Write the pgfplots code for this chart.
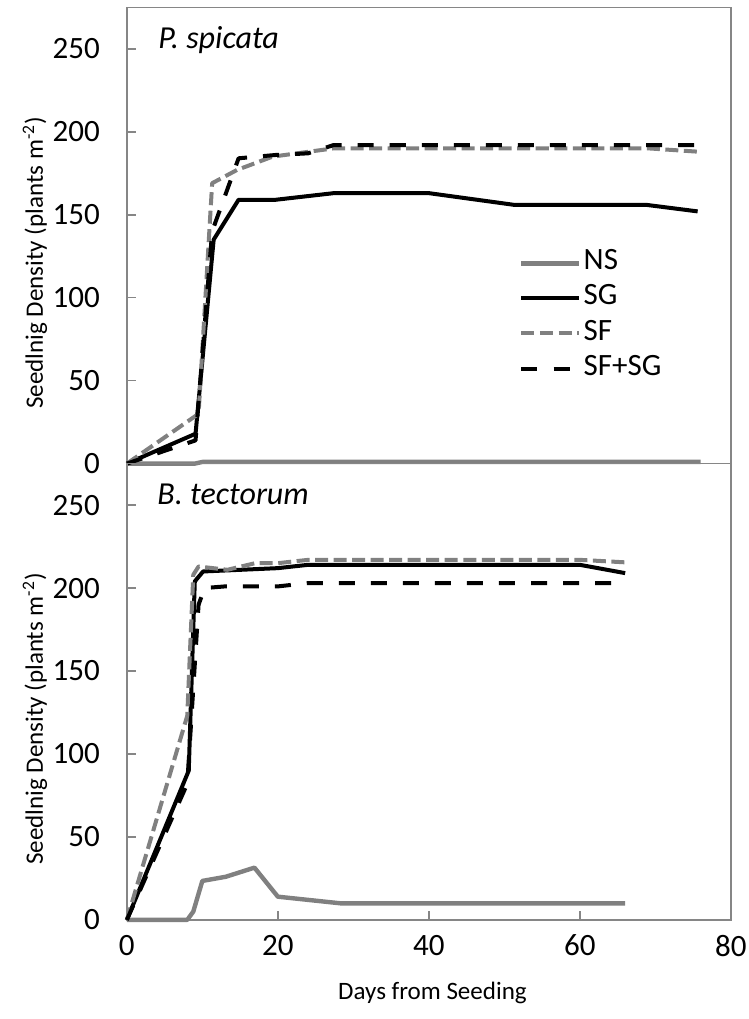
\documentclass[border=0pt]{standalone}
\usepackage{fontspec}
\setmainfont{Carlito}
\usepackage{pgfplots}
\pgfplotsset{compat=1.18}

\definecolor{nsgray}{RGB}{128,128,128}
\definecolor{axgray}{RGB}{134,134,134}

\pgfplotsset{
  panel/.style={
    width=301.7pt, height=227.9pt, scale only axis,
    xmin=0, xmax=80, ymin=0, ymax=275,
    ytick={0,50,...,250}, xtick={0,20,...,80},
    tick align=inside, ytick pos=left, xtick pos=bottom,
    major tick length=4.5pt,
    axis line style={axgray, line width=0.8pt},
    tick style={axgray, line width=0.8pt},
    tick label style={font=\fontsize{15.5}{18}\selectfont},
    /pgf/number format/assume math mode=true,
    yticklabel style={xshift=-10pt},
    label style={font=\fontsize{12.5}{15}\selectfont},
    ylabel={Seedlnig Density (plants m\textsuperscript{-2})},
    ylabel style={at={(axis description cs:-0.152,0.44)}, anchor=center},
    clip=false,
  },
  ns/.style={nsgray, line width=2.2pt, line join=round, no markers},
  sg/.style={black, line width=2pt, line join=round, no markers},
  sf/.style={nsgray, line width=2pt, line join=round, dash pattern=on 6.5pt off 2.75pt, no markers},
  sfsg/.style={black, line width=2pt, line join=round, dash pattern=on 8pt off 8pt, no markers},
}

\begin{document}
\begin{tikzpicture}
\useasboundingbox (-63.35pt,3.65pt) rectangle (310.7pt,-505.3pt);

% P. spicata
\begin{axis}[panel, name=top, at={(0,0)}, anchor=north west,
  xtick=\empty,
  legend cell align=left,
  legend image code/.code={\draw[#1] (0pt,0pt) -- (28.5pt,0pt);},
  legend style={draw=none, fill=none, at={(rel axis cs:0.649,0.478)}, anchor=north west,
    inner sep=0pt, row sep=0pt, font=\fontsize{15.5}{18}\selectfont,
    nodes={inner xsep=1.5pt, inner ysep=0pt, text height=12pt, text depth=5.5pt}},
]
\addplot[ns] coordinates {(0,0) (9,0) (10,1) (15,1) (20,1) (27,1) (40,1) (52,1) (69,1) (76,1)};
\addlegendentry{NS}
\addplot[sg] coordinates {(0,0) (9.1,18) (11.5,135) (14.8,159) (19.7,159) (27.4,163) (40,163) (51.2,156) (68.7,156) (75.6,152)};
\addlegendentry{SG}
\addplot[sf] coordinates {(0,0) (9.5,30) (11.3,169) (14.6,177) (19.3,185) (27.4,190) (40,190) (52,190) (69,190) (75.6,188)};
\addlegendentry{SF}
\addplot[sfsg] coordinates {(0,0) (9.1,14) (11.3,140) (14.8,184) (19.7,186) (24,187) (27.4,192) (40,192) (52,192) (69,192) (75.6,192)};
\addlegendentry{SF+SG}
\node[anchor=base west, inner sep=0pt, font=\fontsize{16}{19}\selectfont\itshape]
  at (rel axis cs:0.0514,0.91) {P. spicata};
\end{axis}

% B. tectorum
\begin{axis}[panel, name=bot, at={(top.south west)}, anchor=north west,
  xlabel={Days from Seeding},
  xlabel style={at={(axis description cs:0.506,-0.16)}, anchor=center},
  xticklabel style={yshift=-4pt},
]
\addplot[ns] coordinates {(0,0) (8,0) (8.8,5) (10,23.5) (13.1,26) (16.9,31.5) (20,14) (28.3,10) (40,10) (60,10) (66,10)};
\addplot[sg] coordinates {(0,0) (8.2,90) (9,204) (10.1,210) (20,212) (24,214) (40,214) (60,214) (66,209)};
\addplot[sf] coordinates {(0,0) (8,123) (8.8,208) (9.5,213) (13.3,211) (17,215) (20,215) (24,217) (40,217) (60,217) (66,215.5)};
\addplot[sfsg] coordinates {(0,0) (8,82) (9.5,190) (10.3,200) (13,201) (20,201) (24,203) (40,203) (60,203) (66,203)};
\node[anchor=base west, inner sep=0pt, font=\fontsize{16}{19}\selectfont\itshape]
  at (rel axis cs:0.05,0.911) {B. tectorum};
\end{axis}
\end{tikzpicture}
\end{document}
